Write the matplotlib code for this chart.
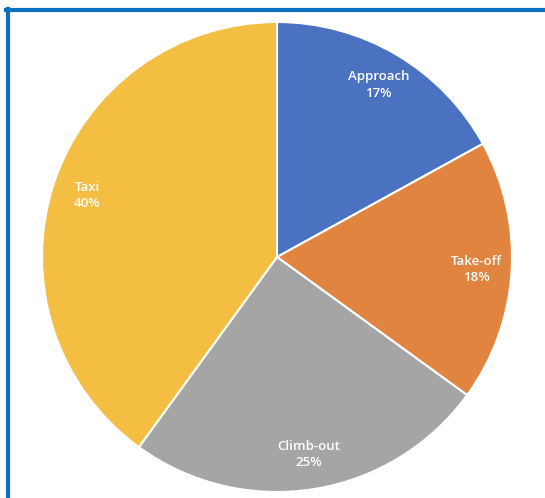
import matplotlib.pyplot as plt
from matplotlib.lines import Line2D

phases = ["Approach", "Take-off", "Climb-out", "Taxi"]
shares = [17, 18, 25, 40]
colors = ["#4A72C0", "#E0843F", "#A5A5A5", "#F4BE42"]

W, H = 545, 498
fig = plt.figure(figsize=(W / 100, H / 100), dpi=100)
fig.patch.set_facecolor("white")

# pie centre (277, 257) px, radius 235 px
cx, cy, r = 277, 257, 235
ax = fig.add_axes([(cx - r) / W, (H - cy - r) / H, 2 * r / W, 2 * r / H])

labels = [f"{p}\n{v}%" for p, v in zip(phases, shares)]
wedges, texts = ax.pie(
    shares,
    labels=labels,
    colors=colors,
    startangle=90,
    counterclock=False,
    labeldistance=0.85,
    wedgeprops=dict(edgecolor="white", linewidth=1.5),
    textprops=dict(color="white", fontsize=9.5, family="Open Sans", weight="semibold"),
)
for t in texts:
    t.set_ha("center")
    t.set_va("center")
    t.set_linespacing(1.35)

ax.set_xlim(-1, 1)
ax.set_ylim(-1, 1)
ax.set_aspect("equal")
ax.axis("off")

# blue frame (top and left edges visible)
fig.add_artist(Line2D([7.5 / W, 7.5 / W], [0, 1 - 9 / H], color="#0A70C4", linewidth=3, transform=fig.transFigure))
fig.add_artist(Line2D([6 / W, 1], [1 - 10.5 / H, 1 - 10.5 / H], color="#0A70C4", linewidth=3, transform=fig.transFigure))

fig.savefig("out.png", dpi=100)
